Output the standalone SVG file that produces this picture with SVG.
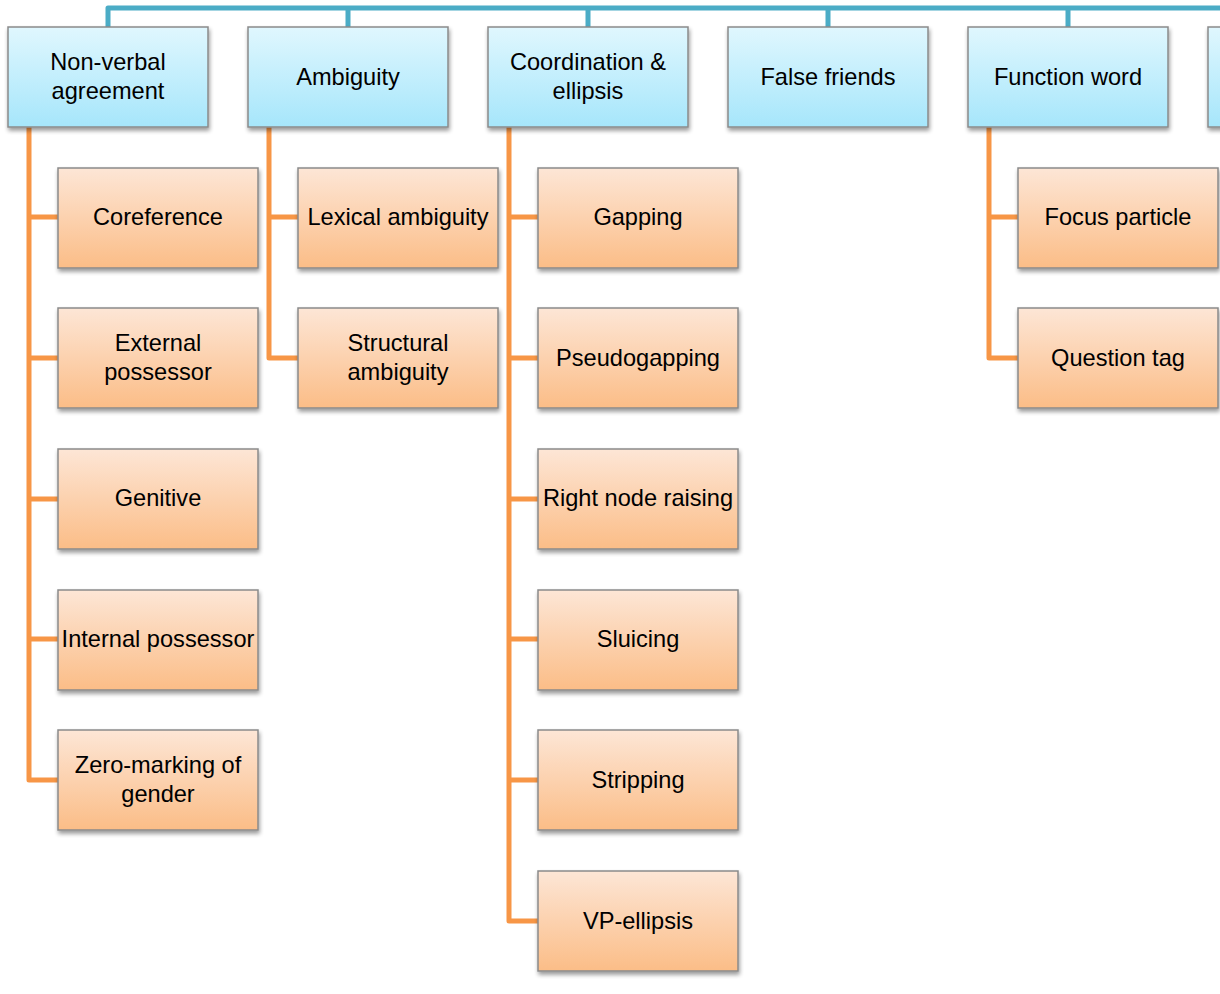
<svg xmlns="http://www.w3.org/2000/svg" width="1220" height="994" viewBox="0 0 1220 994">
<defs>
<linearGradient id="gb" x1="0" y1="0" x2="0" y2="1"><stop offset="0" stop-color="#e0f7fe"/><stop offset="1" stop-color="#a6e6fb"/></linearGradient>
<linearGradient id="go" x1="0" y1="0" x2="0" y2="1"><stop offset="0" stop-color="#fde6d6"/><stop offset="1" stop-color="#fbbd87"/></linearGradient>
<filter id="sh" x="-10%" y="-10%" width="130%" height="130%"><feGaussianBlur in="SourceAlpha" stdDeviation="2"/><feOffset dx="1" dy="3"/><feComponentTransfer><feFuncA type="linear" slope="0.4"/></feComponentTransfer><feMerge><feMergeNode/><feMergeNode in="SourceGraphic"/></feMerge></filter>
</defs>
<style>
.b{fill:url(#gb);stroke:#8a8a8a;stroke-width:1.5;filter:url(#sh)}
.o{fill:url(#go);stroke:#8a8a8a;stroke-width:1.5;filter:url(#sh)}
text{font-family:"Liberation Sans",Arial,sans-serif;font-size:23.6px;fill:#000;text-anchor:middle}
.cb{fill:none;stroke:#4bacc6;stroke-width:5;stroke-linejoin:round}
.co{fill:none;stroke:#f79646;stroke-width:5;stroke-linejoin:round}
</style>
<g id="connectors">
<path class="cb" d="M108,27V8H1220M348,8V27M588,8V27M828,8V27M1068,8V27M1308,8V27"/>
<path class="co" d="M29,127V780H58M29,217H58M29,358H58M29,499H58M29,639H58"/>
<path class="co" d="M269,127V358H298M269,217H298"/>
<path class="co" d="M509,127V921H538M509,217H538M509,358H538M509,499H538M509,639H538M509,780H538"/>
<path class="co" d="M989,127V358H1018M989,217H1018"/>
</g>
<g id="n-nonverbal"><rect class="b" x="8" y="27" width="200" height="100"/><text x="108" y="70">Non-verbal</text><text x="108" y="99">agreement</text></g>
<g id="n-ambiguity"><rect class="b" x="248" y="27" width="200" height="100"/><text x="348" y="85">Ambiguity</text></g>
<g id="n-coord"><rect class="b" x="488" y="27" width="200" height="100"/><text x="588" y="70">Coordination &amp;</text><text x="588" y="99">ellipsis</text></g>
<g id="n-false"><rect class="b" x="728" y="27" width="200" height="100"/><text x="828" y="85">False friends</text></g>
<g id="n-function"><rect class="b" x="968" y="27" width="200" height="100"/><text x="1068" y="85">Function word</text></g>
<g id="n-next"><rect class="b" x="1208" y="27" width="200" height="100"/></g>

<g id="n-coreference"><rect class="o" x="58" y="168" width="200" height="100"/><text x="158" y="225">Coreference</text></g>
<g id="n-external"><rect class="o" x="58" y="308" width="200" height="100"/><text x="158" y="351">External</text><text x="158" y="380">possessor</text></g>
<g id="n-genitive"><rect class="o" x="58" y="449" width="200" height="100"/><text x="158" y="506">Genitive</text></g>
<g id="n-internal"><rect class="o" x="58" y="590" width="200" height="100"/><text x="158" y="647">Internal possessor</text></g>
<g id="n-zero"><rect class="o" x="58" y="730" width="200" height="100"/><text x="158" y="773">Zero-marking of</text><text x="158" y="802">gender</text></g>

<g id="n-lexical"><rect class="o" x="298" y="168" width="200" height="100"/><text x="398" y="225">Lexical ambiguity</text></g>
<g id="n-structural"><rect class="o" x="298" y="308" width="200" height="100"/><text x="398" y="351">Structural</text><text x="398" y="380">ambiguity</text></g>

<g id="n-gapping"><rect class="o" x="538" y="168" width="200" height="100"/><text x="638" y="225">Gapping</text></g>
<g id="n-pseudo"><rect class="o" x="538" y="308" width="200" height="100"/><text x="638" y="366">Pseudogapping</text></g>
<g id="n-rnr"><rect class="o" x="538" y="449" width="200" height="100"/><text x="638" y="506">Right node raising</text></g>
<g id="n-sluicing"><rect class="o" x="538" y="590" width="200" height="100"/><text x="638" y="647">Sluicing</text></g>
<g id="n-stripping"><rect class="o" x="538" y="730" width="200" height="100"/><text x="638" y="788">Stripping</text></g>
<g id="n-vp"><rect class="o" x="538" y="871" width="200" height="100"/><text x="638" y="929">VP-ellipsis</text></g>

<g id="n-focus"><rect class="o" x="1018" y="168" width="200" height="100"/><text x="1118" y="225">Focus particle</text></g>
<g id="n-qtag"><rect class="o" x="1018" y="308" width="200" height="100"/><text x="1118" y="366">Question tag</text></g>
</svg>
